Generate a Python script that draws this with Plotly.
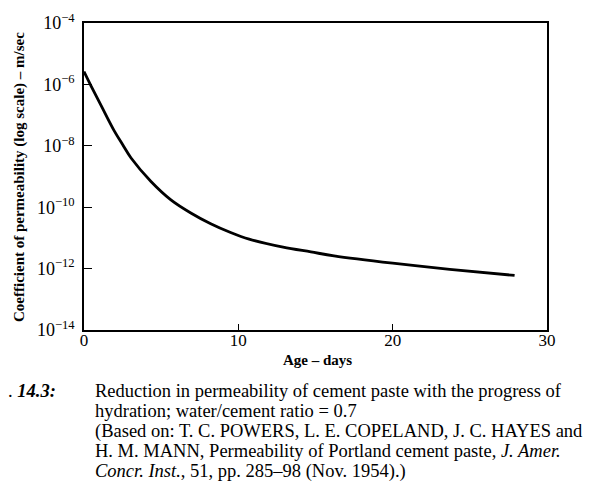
import plotly.graph_objects as go

# Data (age in days, permeability in m/sec)
age_days = [0.0, 0.47, 1.12, 1.97, 2.5, 3.05, 4.34, 5.63, 6.92, 8.21, 9.5, 10.7,
             12.9, 14.7, 16.2, 20.0, 23.7, 27.9]
permeability = [2.63e-6, 8.7e-7, 2.0e-7, 3.0e-8, 1.1e-8, 4.0e-9, 6.9e-10, 1.74e-10,
                6.5e-11, 2.9e-11, 1.5e-11, 9.1e-12, 5.0e-12, 3.5e-12, 2.6e-12,
                1.5e-12, 9.5e-13, 6.0e-13]

y_tickvals = [1e-14, 1e-12, 1e-10, 1e-8, 1e-6, 1e-4]
y_ticktext = ["10<sup>\u221214</sup>", "10<sup>\u221212</sup>", "10<sup>\u221210</sup>",
              "10<sup>\u22128</sup>", "10<sup>\u22126</sup>", "10<sup>\u22124</sup>"]
x_tickvals = [0, 10, 20, 30]

SERIF = "Liberation Serif"
PAGE_OFFSET = 8  # default body margin of the written HTML page

# plot area in page pixels (as seen in the reference)
plot_left, plot_right, plot_top, plot_bottom = 84, 547, 23, 330
plot_w, plot_h = plot_right - plot_left, plot_bottom - plot_top
W, H = 604, 489

fig = go.Figure()
fig.add_trace(go.Scatter(
    x=age_days, y=permeability, mode="lines",
    line=dict(color="black", width=2.8, shape="spline", smoothing=1.0),
    showlegend=False, hoverinfo="skip"))

fig.update_layout(
    width=W, height=H,
    margin=dict(l=plot_left - PAGE_OFFSET, r=W + PAGE_OFFSET - plot_right,
                t=plot_top - PAGE_OFFSET, b=H + PAGE_OFFSET - plot_bottom,
                autoexpand=False),
    paper_bgcolor="white", plot_bgcolor="white",
    font=dict(family=SERIF, color="black", size=16),
    xaxis=dict(range=[0, 30], tickvals=x_tickvals, ticks="inside", ticklen=6,
               tickcolor="black", showline=True, linecolor="black", linewidth=1.5,
               mirror=True, showgrid=False, zeroline=False, ticklabelstandoff=-6,
               automargin=False, tickfont=dict(family=SERIF, size=17)),
    yaxis=dict(type="log", range=[-14, -4], tickvals=y_tickvals, ticktext=y_ticktext,
               ticks="inside", ticklen=8, tickcolor="black", showline=True,
               linecolor="black", linewidth=1.5, mirror=True, showgrid=False,
               zeroline=False, automargin=False, ticklabelstandoff=4,
               tickfont=dict(family=SERIF, size=18)),
)


def px(x):
    return (x - plot_left) / plot_w


def py(y):
    return (plot_bottom - y) / plot_h


# Axis titles
fig.add_annotation(text="<b>Age \u2013 days</b>", xref="paper", yref="paper",
                   x=px(317), y=py(360), xanchor="center", yanchor="middle",
                   showarrow=False, font=dict(family=SERIF, size=15, color="black"))
fig.add_annotation(text="<b>Coefficient of permeability (log scale) \u2013 m/sec</b>",
                   xref="paper", yref="paper", x=px(19), y=py(177),
                   xanchor="center", yanchor="middle", textangle=-90,
                   showarrow=False, font=dict(family=SERIF, size=15, color="black"))

caption_lines = [
    "Reduction in permeability of cement paste with the progress of",
    "hydration; water/cement ratio = 0.7",
    "(Based on: T. C. POWERS, L. E. COPELAND, J. C. HAYES and",
    "H. M. MANN, Permeability of Portland cement paste, <i>J. Amer.</i>",
    "<i>Concr. Inst.</i>, 51, pp. 285\u201398 (Nov. 1954).)",
]
line_y = [391, 411, 431, 451, 471]
for txt, yy in zip(caption_lines, line_y):
    fig.add_annotation(text=txt, xref="paper", yref="paper",
                       x=px(93), y=py(yy),
                       xanchor="left", yanchor="middle", showarrow=False,
                       font=dict(family=SERIF, size=18.5, color="black"))
fig.add_annotation(text=". <b><i>14.3:</i></b>", xref="paper", yref="paper",
                   x=px(58), y=py(line_y[0]),
                   xanchor="right", yanchor="middle", showarrow=False,
                   font=dict(family=SERIF, size=18.5, color="black"))

fig.write_html("out.html")
